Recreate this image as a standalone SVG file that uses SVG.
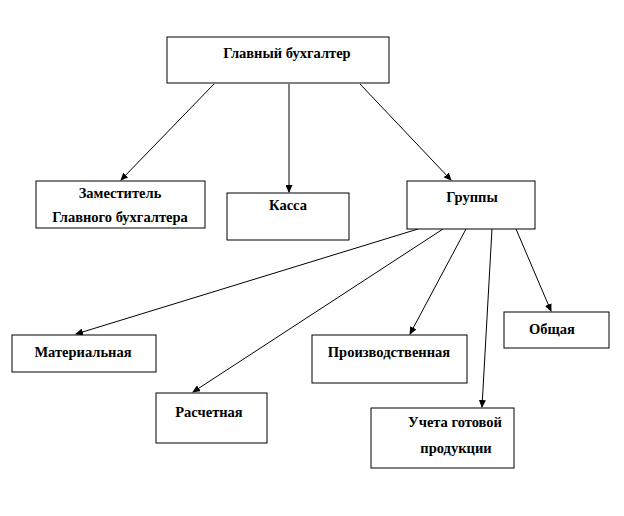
<svg xmlns="http://www.w3.org/2000/svg" width="624" height="516" viewBox="0 0 624 516">
<style>
.box{fill:#fff;stroke:#000;stroke-width:1}
.t{font-family:"Liberation Serif","DejaVu Serif",serif;font-weight:bold;font-size:14.5px;text-anchor:middle;fill:#000}
.c{stroke:#000;stroke-width:1;fill:none;marker-end:url(#ah)}
</style>
<defs>
<marker id="ah" markerWidth="8" markerHeight="7" refX="7" refY="3.5" orient="auto" markerUnits="userSpaceOnUse">
<path d="M0,0 L8,3.5 L0,7 Z" fill="#000"/>
</marker>
</defs>
<rect width="624" height="516" fill="#fff"/>
<g id="connectors">
<line class="c" x1="214" y1="84" x2="121" y2="180"/>
<line class="c" x1="289" y1="84" x2="289" y2="192"/>
<line class="c" x1="360" y1="84" x2="451" y2="180"/>
<line class="c" x1="418" y1="229" x2="76" y2="334"/>
<line class="c" x1="443" y1="229" x2="193" y2="392"/>
<line class="c" x1="466" y1="229" x2="410" y2="334"/>
<line class="c" x1="492" y1="229" x2="482" y2="407"/>
<line class="c" x1="516" y1="229" x2="551" y2="311"/>
</g>
<g id="glavbuh"><rect class="box" x="167" y="37" width="222" height="46"/><text class="t" x="287" y="58">Главный бухгалтер</text></g>
<g id="zam"><rect class="box" x="36" y="181" width="169" height="47"/><text class="t" x="120" y="198">Заместитель</text><text class="t" x="120" y="222">Главного бухгалтера</text></g>
<g id="kassa"><rect class="box" x="227" y="193" width="122" height="47"/><text class="t" x="288" y="210">Касса</text></g>
<g id="gruppy"><rect class="box" x="407" y="181" width="128" height="48"/><text class="t" x="472" y="202">Группы</text></g>
<g id="material"><rect class="box" x="12" y="335" width="144" height="37"/><text class="t" x="83" y="357">Материальная</text></g>
<g id="raschet"><rect class="box" x="156" y="393" width="111" height="50"/><text class="t" x="209" y="417">Расчетная</text></g>
<g id="proizv"><rect class="box" x="312" y="335" width="155" height="48"/><text class="t" x="389" y="357">Производственная</text></g>
<g id="uchet"><rect class="box" x="371" y="408" width="143" height="60"/><text class="t" x="455" y="427">Учета готовой</text><text class="t" x="456" y="453">продукции</text></g>
<g id="obshaya"><rect class="box" x="504" y="312" width="105" height="36"/><text class="t" x="552" y="334">Общая</text></g>
</svg>
